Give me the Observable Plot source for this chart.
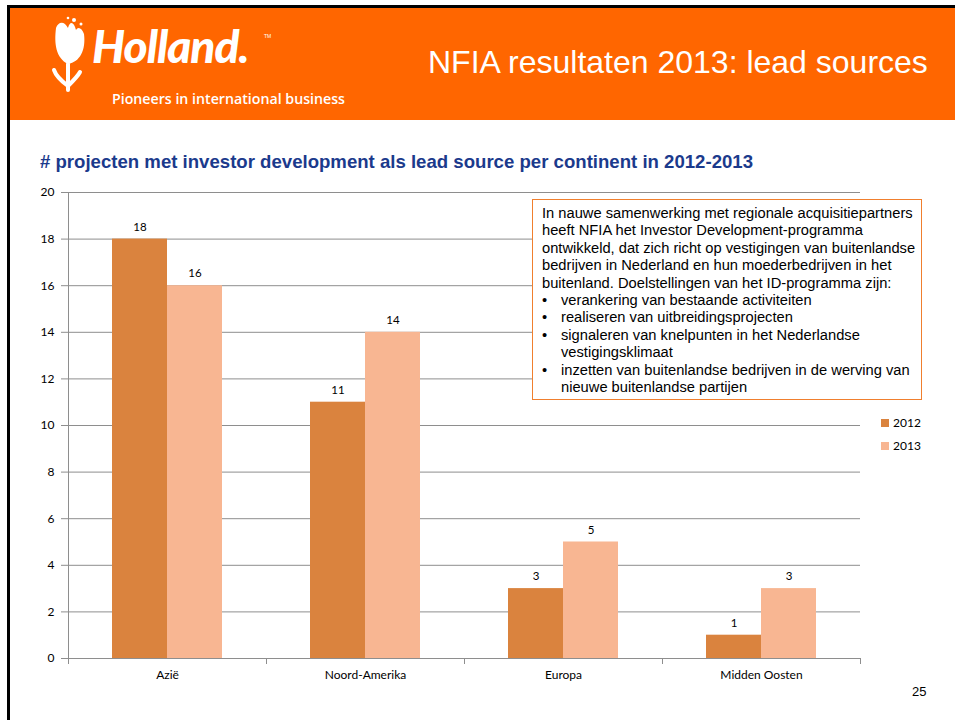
<!DOCTYPE html>
<html>
<head>
<meta charset="utf-8">
<script src="https://cdn.jsdelivr.net/npm/d3@7"></script>
<script src="https://cdn.jsdelivr.net/npm/@observablehq/plot@0.6"></script>
<style>
  html, body { margin: 0; padding: 0; background: #fff; }
  #page { position: relative; width: 955px; height: 720px; overflow: hidden; background: #fff; }
  #topline { position: absolute; left: 7px; top: 5px; width: 948px; height: 3px; background: #000; }
  #leftline { position: absolute; left: 7px; top: 5px; width: 3px; height: 715px; background: #000; }
  #header { position: absolute; left: 10px; top: 8px; width: 945px; height: 112px; background: #FF6600; }
  #brand { position: absolute; left: 92px; top: 18px; font-family: "Lato", sans-serif; font-weight: 900; font-style: italic; font-size: 46px; color: #fff; letter-spacing: -1px; }
  #tm { position: absolute; left: 264px; top: 33px; font-family: "Liberation Sans", sans-serif; font-size: 5px; color: #fff; }
  #pioneers { position: absolute; left: 112px; top: 89px; font-family: "Open Sans", sans-serif; font-weight: 600; font-size: 14.2px; color: #fff; white-space: nowrap; }
  #title { position: absolute; left: 428px; top: 44px; font-family: "Liberation Sans", Arial, sans-serif; font-size: 32px; color: #fff; white-space: nowrap; }
  #subtitle { position: absolute; left: 40px; top: 151px; font-family: "Liberation Sans", Arial, sans-serif; font-weight: bold; font-size: 18.6px; color: #1B3A8C; white-space: nowrap; }
  #chart { position: absolute; left: 0; top: 180px; }
  #note { position: absolute; left: 532px; top: 199px; width: 379px; height: 187px; border: 1px solid #F07F2E; background: #fff; padding: 5px 0 7px 9px; font-family: "Liberation Sans", Arial, sans-serif; font-size: 14.7px; line-height: 17.4px; color: #000; }
  #note ul { margin: 0; padding: 0 0 0 19px; list-style: none; }
  #note li { position: relative; }
  #note li::before { content: "\2022"; position: absolute; left: -19px; }
  .leg { position: absolute; left: 881px; font-family: "Lato", sans-serif; font-size: 12px; color: #000; }
  .leg span { display: inline-block; width: 8px; height: 8px; margin-right: 4px; vertical-align: 0px; }
  #pnum { position: absolute; left: 912px; top: 684px; font-family: "Liberation Sans", Arial, sans-serif; font-size: 13px; color: #000; }
</style>
</head>
<body>
<div id="page">
  <div id="header"></div>
  <div id="topline"></div>
  <div id="leftline"></div>
  <svg style="position:absolute;left:48px;top:14px" width="48" height="80" viewBox="0 0 48 80">
    <path d="M8 14 C6 30, 8 44, 20 50 C32 48, 38 36, 36 20 C34 14, 30 12, 28 16 C26 8, 22 6, 20 14 C16 6, 10 8, 8 14 Z" fill="#fff"/>
    <circle cx="26" cy="6" r="2" fill="#fff"/><circle cx="33" cy="10" r="1.5" fill="#fff"/><circle cx="20" cy="4" r="1.3" fill="#fff"/>
    <path d="M20 50 L20 76" stroke="#fff" stroke-width="4" fill="none" stroke-linecap="round"/>
    <path d="M20 72 C12 66, 8 62, 6 56" stroke="#fff" stroke-width="4" fill="none" stroke-linecap="round"/>
    <path d="M20 72 C26 66, 30 62, 32 58" stroke="#fff" stroke-width="4" fill="none" stroke-linecap="round"/>
  </svg>
  <div id="brand">Holland.</div>
  <div id="tm">TM</div>
  <div id="pioneers">Pioneers in international business</div>
  <div id="title">NFIA resultaten 2013: lead sources</div>
  <div id="subtitle"># projecten met investor development als lead source per continent in 2012-2013</div>
  <div id="chart"></div>
  <div id="note">In nauwe samenwerking met regionale acquisitiepartners heeft NFIA het Investor Development-programma ontwikkeld, dat zich richt op vestigingen van buitenlandse bedrijven in Nederland en hun moederbedrijven in het buitenland. Doelstellingen van het ID-programma zijn:
    <ul>
      <li>verankering van bestaande activiteiten</li>
      <li>realiseren van uitbreidingsprojecten</li>
      <li>signaleren van knelpunten in het Nederlandse vestigingsklimaat</li>
      <li>inzetten van buitenlandse bedrijven in de werving van nieuwe buitenlandse partijen</li>
    </ul>
  </div>
  <div class="leg" style="top:415px"><span style="background:#DA833E"></span>2012</div>
  <div class="leg" style="top:438px"><span style="background:#F8B692"></span>2013</div>
  <div id="pnum">25</div>
</div>
<script>
const continents = ["Azië", "Noord-Amerika", "Europa", "Midden Oosten"];
const years = ["2012", "2013"];
const values2012 = [18, 11, 3, 1];
const values2013 = [16, 14, 5, 3];
const yTicks = [0, 2, 4, 6, 8, 10, 12, 14, 16, 18, 20];
const colors = ["#DA833E", "#F8B692"];

const table = [];
continents.forEach((c, i) => {
  table.push({continent: c, year: years[0], value: values2012[i]});
  table.push({continent: c, year: years[1], value: values2013[i]});
});

const gray = "#8e8e8e";
const innerH = 510 - 12 - 32;

const chart = Plot.plot({
  width: 955,
  height: 510,
  marginLeft: 67,
  marginRight: 95,
  marginTop: 12,
  marginBottom: 32,
  style: {fontFamily: "Lato, sans-serif", fontSize: "11px", color: "#000", background: "transparent"},
  fx: {domain: continents, padding: 0, label: null},
  x: {domain: years, paddingInner: 0, paddingOuter: 0.77, axis: null},
  y: {domain: [0, 20], label: null, axis: null},
  color: {domain: years, range: colors},
  marks: [
    Plot.gridY(yTicks, {stroke: gray, strokeOpacity: 1}),
    Plot.axisY(yTicks, {tickSize: 7, tickPadding: 7, stroke: gray, label: null, fontSize: 12}),
    Plot.frame({anchor: "left", facetAnchor: "left", stroke: gray}),
    Plot.frame({anchor: "left", stroke: gray, insetTop: innerH, insetBottom: -5}),
    Plot.frame({anchor: "right", facetAnchor: "right", stroke: gray, insetTop: innerH, insetBottom: -5}),
    Plot.barY(table, {fx: "continent", x: "year", y: "value", fill: "year"}),
    Plot.ruleY([0], {stroke: gray}),
    Plot.text(table, {fx: "continent", x: "year", y: "value", text: "value", dy: -12, fill: "#000", fontSize: 11.5}),
    Plot.axisFx({anchor: "bottom", tickSize: 0, tickPadding: 12, label: null, fontSize: 12})
  ]
});
document.getElementById("chart").appendChild(chart);
</script>
</body>
</html>
